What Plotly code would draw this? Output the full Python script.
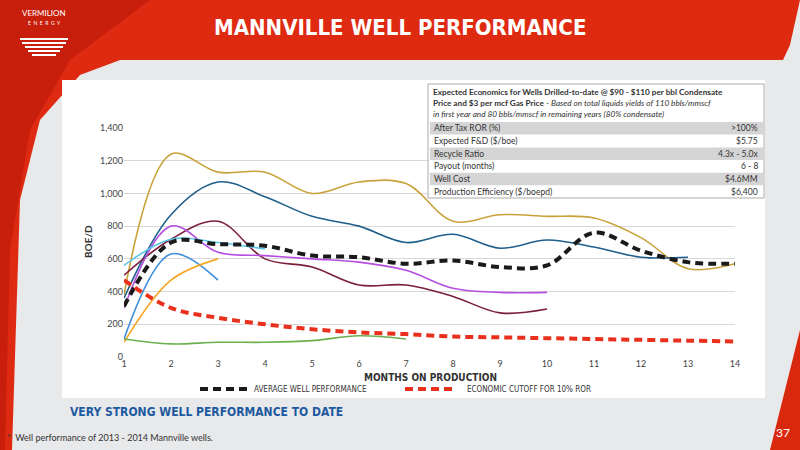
import plotly.graph_objects as go

## data
months = list(range(1, 15))
avg_well = [310, 700, 690, 680, 620, 610, 570, 590, 550, 560, 760, 650, 580, 570]
econ_cutoff = [470, 300, 240, 200, 170, 150, 140, 125, 120, 115, 110, 105, 100, 95]

wells = {
    '#c9a23a': [380, 1240, 1130, 1130, 1000, 1070, 1060, 830, 870, 860, 850, 730, 540, 570],
    '#1f5f8b': [360, 870, 1070, 980, 860, 800, 700, 750, 665, 715, 672, 610, 610],
    '#7a1f3d': [500, 720, 830, 600, 550, 440, 440, 370, 270, 293],
    '#b44ee0': [300, 800, 640, 620, 600, 580, 530, 420, 395, 395],
    '#5bc8e8': [560, 720, 700, 660],
    '#3f8fdc': [110, 630, 470],
    '#f5a623': [90, 470, 600],
    '#6ab04c': [110, 80, 90, 90, 100, 130, 110],
}

table_head = ["<b>Expected Economics for Wells Drilled-to-date @ $90 - $110 per bbl Condensate</b>",
              "<b>Price and $3 per mcf Gas Price</b> - <i>Based on total liquids yields of 110 bbls/mmscf</i>",
              "<i>in first year and 80 bbls/mmscf in remaining years (80% condensate)</i>"]
table_labels = ["After Tax ROR (%)", "Expected F&D ($/boe)", "Recycle Ratio",
                "Payout (months)", "Well Cost", "Production Efficiency ($/boepd)"]
table_values = [">100%", "$5.75", "4.3x - 5.0x", "6 - 8", "$4.6MM", "$6,400"]

## plot area in pixels, used to place slide decoration
L, R, T, B = 124, 735, 128, 357
W, H = 800, 450
NARROW = 'DejaVu Sans Condensed'
DASH = '8px,5px'
def px(x):
    return (x - L) / (R - L)
def py(y):
    return (B - y) / (B - T)

fig = go.Figure()
for color, vals in wells.items():
    fig.add_trace(go.Scatter(x=months[:len(vals)], y=vals, mode='lines', showlegend=False,
                             line=dict(color=color, width=1.6, shape='spline', smoothing=1.0)))
fig.add_trace(go.Scatter(x=months, y=avg_well, mode='lines', showlegend=False,
                         line=dict(color='#1a1a1a', width=4, dash=DASH, shape='spline')))
fig.add_trace(go.Scatter(x=months, y=econ_cutoff, mode='lines', showlegend=False,
                         line=dict(color='#e8301c', width=4, dash=DASH, shape='spline')))

shapes = []
def rect(x0, y0, x1, y1, color, line=None, layer='below'):
    shapes.append(dict(type='rect', xref='paper', yref='paper', x0=px(x0), x1=px(x1),
                       y0=py(y0), y1=py(y1), fillcolor=color, layer=layer,
                       line=dict(width=0) if line is None else line))
def poly(points, color, layer='below'):
    path = 'M ' + ' L '.join(f'{px(a):.4f},{py(b):.4f}' for a, b in points) + ' Z'
    shapes.append(dict(type='path', xref='paper', yref='paper', path=path,
                       fillcolor=color, line=dict(width=0), layer=layer))

# slide background pieces
poly([(0, 0), (800, 0), (790, 45), (783, 60), (120, 60), (80, 75), (40, 120), (20, 200), (12, 450), (0, 450)], '#df2a12')
poly([(0, 0), (150, 0), (70, 60), (30, 130), (10, 250), (5, 450), (0, 450)], '#c81e0c')
poly([(800, 330), (800, 450), (770, 450)], '#d8290f')
rect(62, 80, 765, 398, 'white')
# logo stripes
for i, hw in enumerate([24, 22, 19, 16, 12]):
    rect(44 - hw, 38 + i * 4, 44 + hw, 40 + i * 4, 'white', layer='above')

annotations = []
def text(x, y, t, size, color, anchor='left', family='Lato', angle=0):
    annotations.append(dict(x=px(x), y=py(y), xref='paper', yref='paper', text=t, showarrow=False,
                            xanchor=anchor, yanchor='middle', textangle=angle,
                            font=dict(size=size, color=color, family=family)))

# economics table
rect(428, 84, 764, 198, 'white', line=dict(color='#aaaaaa', width=1), layer='above')
for i, txt in enumerate(table_head):
    text(431, 92 + i * 11, txt, 8.2, '#333')
for i, (lab, val) in enumerate(zip(table_labels, table_values)):
    y0 = 122 + i * 12.7
    if i % 2 == 0:
        rect(430, y0, 763, y0 + 12.5, '#d5d5d5', layer='above')
    text(432, y0 + 6.3, lab, 8.5, '#333')
    text(760, y0 + 6.3, val, 8.5, '#333', 'right')

# legend drawn by hand
for x0, color in [(200, '#1a1a1a'), (405, '#e8301c')]:
    shapes.append(dict(type='line', xref='paper', yref='paper', x0=px(x0), x1=px(x0 + 48),
                       y0=py(389), y1=py(389), line=dict(color=color, width=4, dash=DASH)))
text(252, 389, 'AVERAGE WELL PERFORMANCE', 8, '#333', family=NARROW)
text(465, 389, 'ECONOMIC CUTOFF FOR 10% ROR', 8, '#333', family=NARROW)

text(400, 27, '<b>MANNVILLE WELL PERFORMANCE</b>', 22, 'white', 'center', NARROW)
text(44, 13, 'VERMILION', 8, 'white', 'center')
text(44, 23, 'E  N  E  R  G  Y', 5, 'white', 'center')
text(88, 242, '<b>BOE/D</b>', 10, '#333', 'center', angle=-90)
text(430, 377, '<b>MONTHS ON PRODUCTION</b>', 10, '#333', 'center', NARROW)
text(68, 412, '<b>VERY STRONG WELL PERFORMANCE TO DATE</b>', 12, '#1e5aa0', 'left', NARROW)
text(5, 437, '*  Well performance of 2013 - 2014 Mannville wells.', 9, '#333')
text(792, 432, '37', 12, 'white', 'right')

fig.update_layout(
    width=W, height=H, margin=dict(l=L, r=W - R, t=T, b=H - B, autoexpand=False),
    paper_bgcolor='#e8e9eb', plot_bgcolor='white', font=dict(family='Lato', color='#444', size=9),
    shapes=shapes, annotations=annotations, showlegend=False,
    xaxis=dict(range=[1, 14], tickvals=months, showgrid=False, zeroline=False, ticks='',
               automargin=False, tickfont=dict(size=9, color='#444')),
    yaxis=dict(range=[0, 1400], dtick=200, tickformat=',', gridcolor='#d8d8d8', zeroline=False,
               showline=False, automargin=False, tickfont=dict(size=9, color='#444')),
)
fig.write_html("out.html", config={'displayModeBar': False},
               post_script="document.body.style.margin='0';")
